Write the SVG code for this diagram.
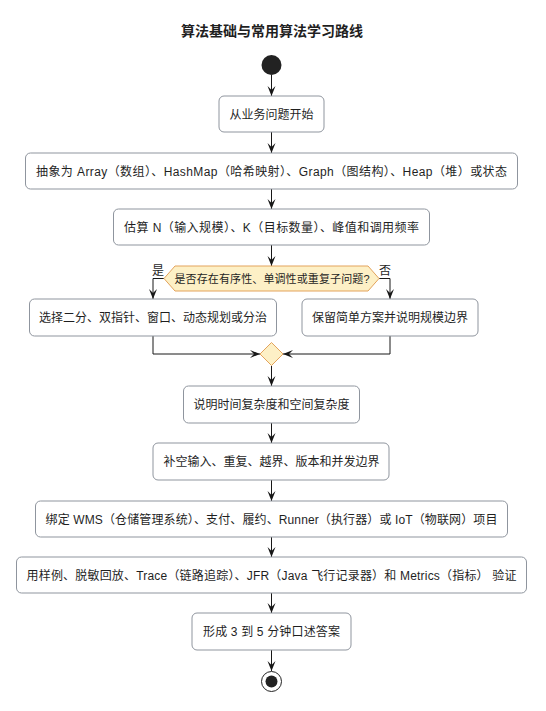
<svg xmlns="http://www.w3.org/2000/svg" width="546" height="711" viewBox="0 0 546 711">
<style>
text{font-family:"Liberation Sans","Noto Sans CJK SC",sans-serif;fill:#1f1f1f}
.t{font-size:12px;text-anchor:middle}
.title{font-size:14px;font-weight:bold;text-anchor:middle}
.node rect{fill:#ffffff;stroke:#8f959e;stroke-width:1}
.dec{fill:#fdf0c6;stroke:#e3a35c;stroke-width:1}
.lbl{font-size:12px;text-anchor:middle}
.c{fill:none;stroke:#181818;stroke-width:1}
</style>
<defs>
<marker id="ah" viewBox="0 0 10 10" refX="10" refY="5" markerWidth="10" markerHeight="10" markerUnits="userSpaceOnUse" orient="auto">
<path d="M0,1 L10,5 L0,9 L4,5 Z" fill="#181818"/>
</marker>
</defs>
<text class="title" x="272" y="36">算法基础与常用算法学习路线</text>
<g id="start"><circle cx="271.5" cy="65" r="10" fill="#222222"/></g>
<g id="connectors">
<path class="c" d="M271.5,75 V96" marker-end="url(#ah)"/>
<path class="c" d="M271.5,132 V153" marker-end="url(#ah)"/>
<path class="c" d="M271.5,189 V209" marker-end="url(#ah)"/>
<path class="c" d="M271.5,245 V266" marker-end="url(#ah)"/>
<path class="c" d="M164,278.5 H153 V299" marker-end="url(#ah)"/>
<path class="c" d="M379,278.5 H390 V299" marker-end="url(#ah)"/>
<path class="c" d="M153,336 V354 H260" marker-end="url(#ah)"/>
<path class="c" d="M390,336 V354 H283" marker-end="url(#ah)"/>
<path class="c" d="M271.5,366 V386" marker-end="url(#ah)"/>
<path class="c" d="M271.5,423 V443" marker-end="url(#ah)"/>
<path class="c" d="M271.5,480 V501" marker-end="url(#ah)"/>
<path class="c" d="M271.5,537 V557" marker-end="url(#ah)"/>
<path class="c" d="M271.5,593 V613" marker-end="url(#ah)"/>
<path class="c" d="M271.5,650 V671" marker-end="url(#ah)"/>
<text class="lbl" x="158" y="275">是</text>
<text class="lbl" x="385" y="275">否</text>
</g>
<g id="n1" class="node"><rect x="219" y="96" width="105" height="36" rx="5"/><text class="t" x="271.5" y="118.5">从业务问题开始</text></g>
<g id="n2" class="node"><rect x="25.5" y="153" width="492" height="36" rx="5"/><text class="t" x="271.5" y="175.5" textLength="471" lengthAdjust="spacing">抽象为 Array（数组）、HashMap（哈希映射）、Graph（图结构）、Heap（堆）或状态</text></g>
<g id="n3" class="node"><rect x="113.5" y="209" width="316" height="36" rx="5"/><text class="t" x="271.5" y="231.5" textLength="295" lengthAdjust="spacing">估算 N（输入规模）、K（目标数量）、峰值和调用频率</text></g>
<g id="d1"><polygon class="dec" points="164,278.5 175,266 368,266 379,278.5 368,291 175,291"/><text x="272" y="282.5" style="font-size:11px;text-anchor:middle" textLength="195" lengthAdjust="spacing">是否存在有序性、单调性或重复子问题?</text></g>
<g id="n4" class="node"><rect x="29.5" y="299" width="247" height="37" rx="5"/><text class="t" x="153" y="322">选择二分、双指针、窗口、动态规划或分治</text></g>
<g id="n5" class="node"><rect x="302" y="299" width="176" height="37" rx="5"/><text class="t" x="390" y="322">保留简单方案并说明规模边界</text></g>
<g id="m1"><polygon class="dec" points="260,354 271.5,342.5 283,354 271.5,365.5"/></g>
<g id="n6" class="node"><rect x="183.5" y="386" width="176" height="37" rx="5"/><text class="t" x="271.5" y="409">说明时间复杂度和空间复杂度</text></g>
<g id="n7" class="node"><rect x="153" y="443" width="236" height="37" rx="5"/><text class="t" x="271.5" y="466">补空输入、重复、越界、版本和并发边界</text></g>
<g id="n8" class="node"><rect x="35.5" y="501" width="472" height="36" rx="5"/><text class="t" x="271.5" y="523.5" textLength="452" lengthAdjust="spacing">绑定 WMS（仓储管理系统）、支付、履约、Runner（执行器）或 IoT（物联网）项目</text></g>
<g id="n9" class="node"><rect x="16.5" y="557" width="510" height="36" rx="5"/><text class="t" x="271.5" y="579.5" textLength="490" lengthAdjust="spacing">用样例、脱敏回放、Trace（链路追踪）、JFR（Java 飞行记录器）和 Metrics（指标） 验证</text></g>
<g id="n10" class="node"><rect x="192" y="613" width="159" height="37" rx="5"/><text class="t" x="271.5" y="636" textLength="137" lengthAdjust="spacing">形成 3 到 5 分钟口述答案</text></g>
<g id="end"><circle cx="271.5" cy="681.5" r="10" fill="none" stroke="#222222" stroke-width="1"/><circle cx="271.5" cy="681.5" r="6" fill="#222222"/></g>
</svg>
